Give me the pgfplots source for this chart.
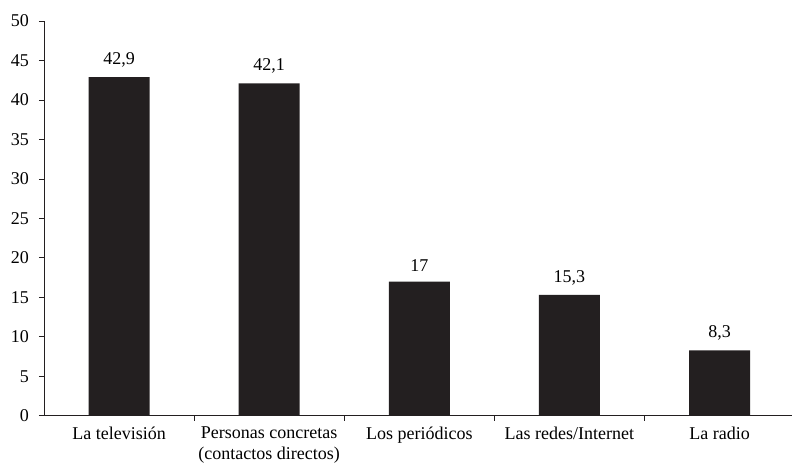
\documentclass[border=0pt]{standalone}
\usepackage{pgfplots}
\pgfplotsset{compat=1.18}
\usepackage{fontspec}
\setmainfont{Liberation Serif}
\definecolor{barc}{HTML}{231F20}
\begin{document}
\fontsize{18pt}{21pt}\selectfont
\begin{tikzpicture}
\begin{axis}[
  name=ax,
  scale only axis,
  width=748pt, height=395pt,
  xmin=-0.5, xmax=4.48,
  ymin=0, ymax=50,
  axis lines*=left,
  axis line style={barc, line width=0.8pt},
  every tick/.style={barc, line width=0.8pt},
  tick align=outside,
  ytick distance=5,
  major tick length=5pt,
  xtick={0.5,1.5,2.5,3.5},
  xticklabels={},
  extra x ticks={0,1,2,3,4},
  extra x tick labels={La televisión, Personas concretas\\(contactos directos), Los periódicos, Las redes/Internet, La radio},
  extra x tick style={major tick length=0pt, xticklabel style={align=center, yshift=-5pt}},
  /pgf/number format/assume math mode=true,
  /pgf/number format/use comma,
  ybar, bar width=61pt,
  nodes near coords,
  nodes near coords style={font=\fontsize{18pt}{21pt}\selectfont, yshift=4pt},
  tick label style={font=\fontsize{18pt}{21pt}\selectfont},
  yticklabel style={xshift=-4pt},
]
\addplot[fill=barc, draw=none] coordinates {(0,42.9) (1,42.1) (2,17) (3,15.3) (4,8.3)};
\end{axis}
\path ([yshift=21pt]ax.north west);
\path ([xshift=-44pt]ax.south west);
\end{tikzpicture}
\end{document}
